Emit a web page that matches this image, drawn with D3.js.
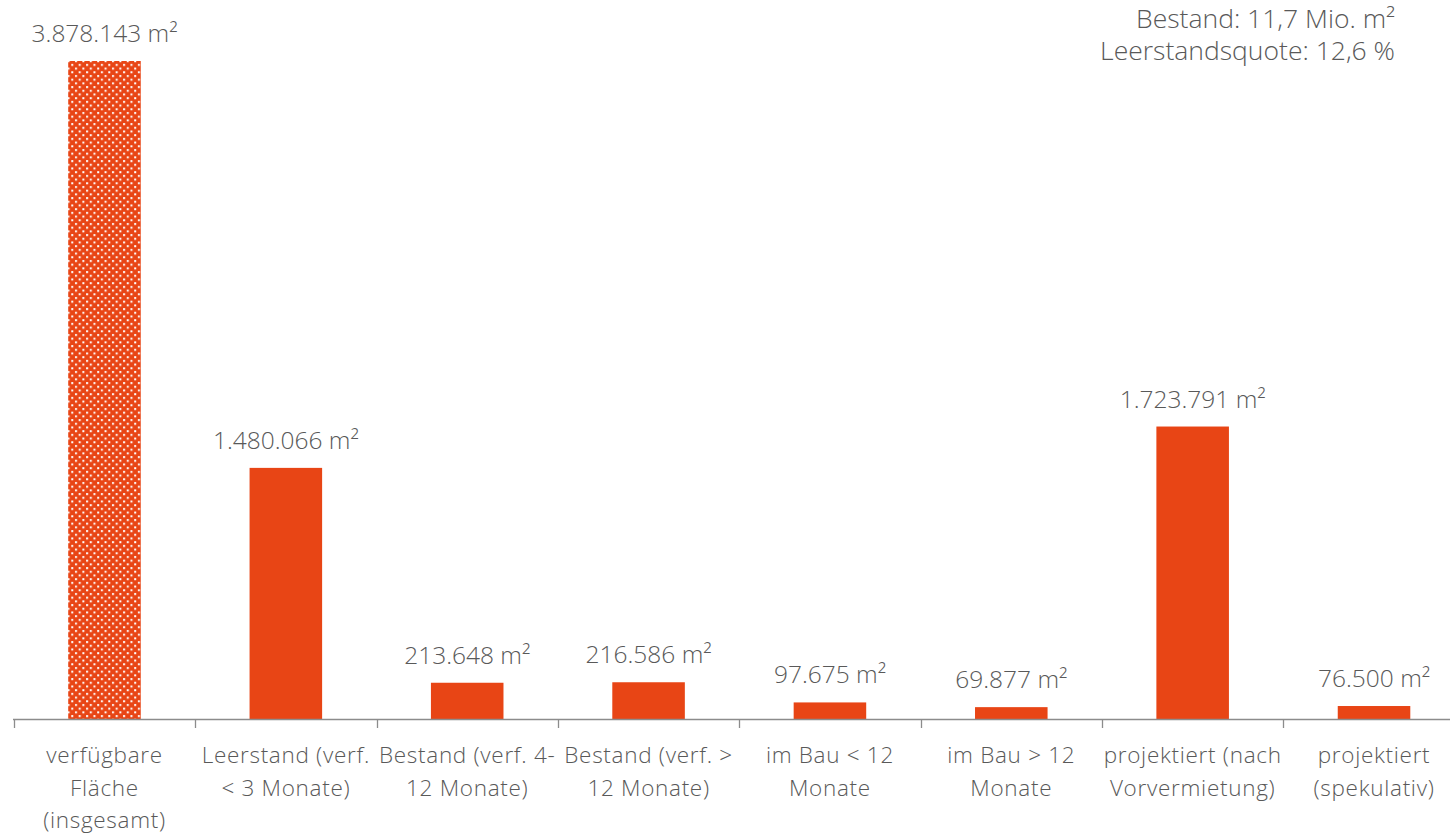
<!DOCTYPE html>
<html><head><meta charset="utf-8">
<script src="https://cdn.jsdelivr.net/npm/d3@7"></script>
<style>
html,body{margin:0;padding:0;background:#fff;}
text{font-family:"Open Sans",sans-serif;font-weight:300;fill:#595959;}
</style></head>
<body>
<svg id="chart" width="1450" height="837"></svg>
<script>
const categories = [
  ["verfügbare","Fläche","(insgesamt)"],
  ["Leerstand (verf.","< 3 Monate)"],
  ["Bestand (verf. 4-","12 Monate)"],
  ["Bestand (verf. >","12 Monate)"],
  ["im Bau < 12","Monate"],
  ["im Bau > 12","Monate"],
  ["projektiert (nach","Vorvermietung)"],
  ["projektiert","(spekulativ)"]
];
const values = [3878143, 1480066, 213648, 216586, 97675, 69877, 1723791, 76500];
const valueLabels = ["3.878.143 m²","1.480.066 m²","213.648 m²","216.586 m²","97.675 m²","69.877 m²","1.723.791 m²","76.500 m²"];
const infoLines = ["Bestand: 11,7 Mio. m²","Leerstandsquote: 12,6 %"];

const svg = d3.select("#chart");
const defs = svg.append("defs");
const pat = defs.append("pattern").attr("id","dots").attr("patternUnits","userSpaceOnUse")
  .attr("width",7.4).attr("height",7.4);
pat.append("rect").attr("width",7.4).attr("height",7.4).attr("fill","#E84515");
pat.append("rect").attr("x",1).attr("y",1).attr("width",2).attr("height",2).attr("fill","#fff");
pat.append("rect").attr("x",4.7).attr("y",4.7).attr("width",2).attr("height",2).attr("fill","#fff");

const x = d3.scaleBand().domain(d3.range(categories.length)).range([13.8, 1464.7]).paddingInner(0.6).paddingOuter(0.3);
const y = d3.scaleLinear().domain([0, 3878143]).range([719, 61]);

// bars
svg.selectAll("rect.bar").data(values).join("rect").attr("class","bar")
  .attr("x",(d,i)=>x(i)).attr("width",x.bandwidth())
  .attr("y",d=>y(d)).attr("height",d=>719-y(d))
  .attr("fill",(d,i)=>i===0?"url(#dots)":"#E84515");

// value labels
svg.selectAll("text.val").data(values).join("text").attr("class","val")
  .attr("x",(d,i)=>x(i)+x.bandwidth()/2).attr("y",d=>y(d)-19)
  .attr("text-anchor","middle").attr("font-size",24.5).text((d,i)=>valueLabels[i]);

// axis
const step = x.step();
const ax = svg.append("g");
ax.append("line").attr("x1",13).attr("x2",1450).attr("y1",719.5).attr("y2",719.5).attr("stroke","#8c8c8c").attr("stroke-width",1.3);
const centers = d3.range(categories.length).map(i=>x(i)+x.bandwidth()/2);
const ticks = d3.range(categories.length+1).map(i=> i<categories.length ? centers[i]-step/2 : centers[categories.length-1]+step/2);
ax.selectAll("line.t").data(ticks).join("line").attr("class","t")
  .attr("x1",d=>Math.round(d)+0.5).attr("x2",d=>Math.round(d)+0.5).attr("y1",719).attr("y2",728)
  .attr("stroke","#8c8c8c").attr("stroke-width",1.3);

// category labels
const cl = svg.selectAll("text.cat").data(categories).join("text").attr("class","cat")
  .attr("text-anchor","middle").attr("font-size",22.5).attr("letter-spacing","0.7px");
cl.selectAll("tspan").data((d,i)=>d.map(s=>({s,i}))).join("tspan")
  .attr("x",d=>centers[d.i]).attr("y",(d,j)=>763+j*32.5).text(d=>d.s);

// info text
svg.selectAll("text.info").data(infoLines).join("text").attr("class","info")
  .attr("x",1395).attr("y",(d,i)=>28+i*32).attr("text-anchor","end").attr("font-size",26.5).text(d=>d);
</script>
</body></html>
